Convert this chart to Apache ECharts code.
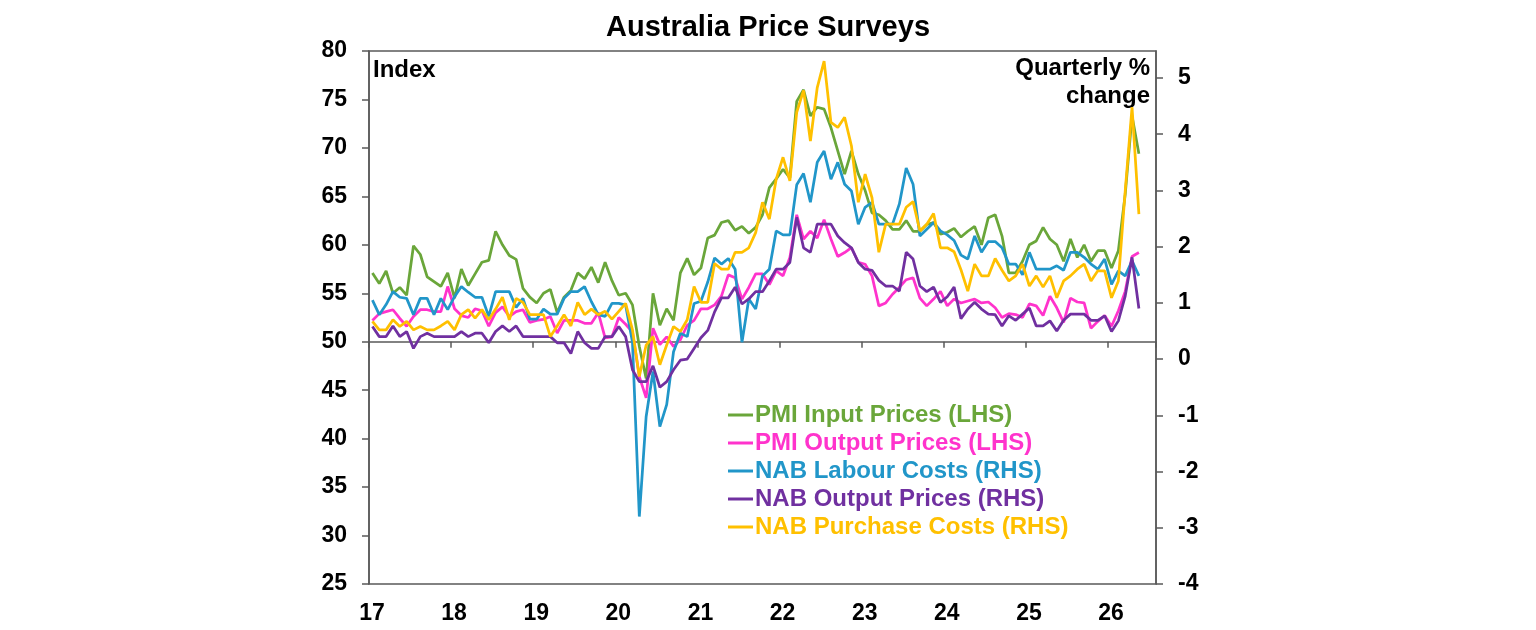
<!DOCTYPE html>
<html>
<head>
<meta charset="utf-8">
<title>Australia Price Surveys</title>
<script src="https://cdn.jsdelivr.net/npm/echarts@6/dist/echarts.min.js"></script>
<style>
  html, body { margin: 0; padding: 0; background: #fff; }
  #chart { width: 1536px; height: 630px; }
</style>
</head>
<body>
<div id="chart"></div>
<script>
// monthly observations, Jan 2017 .. May 2026
const yearLabels = ['17', '18', '19', '20', '21', '22', '23', '24', '25', '26'];
const rightTicks = [-4, -3, -2, -1, 0, 1, 2, 3, 4, 5];

const seriesNames = [
    'PMI Input Prices (LHS)',
    'PMI Output Prices (LHS)',
    'NAB Labour Costs (RHS)',
    'NAB Output Prices (RHS)',
    'NAB Purchase Costs (RHS)'
];

const pmiInput = [
    57.1, 56.0, 57.3, 55.0, 55.6, 54.8, 59.9, 59.0, 56.7, 56.2, 55.7, 57.1,
    54.5, 57.5, 55.8, 57.0, 58.2, 58.4, 61.4, 60.0, 58.9, 58.5, 55.5, 54.6,
    54.0, 55.0, 55.4, 53.0, 54.6, 55.3, 57.1, 56.5, 57.7, 56.1, 58.2, 56.3,
    54.8, 55.0, 53.8, 49.5, 46.2, 55.0, 51.7, 53.4, 52.2, 57.1, 58.6, 56.9,
    57.6, 60.7, 61.0, 62.3, 62.5, 61.5, 61.9, 61.2, 61.8, 63.1, 65.9, 66.8,
    67.8, 66.9, 74.8, 76.0, 73.3, 74.2, 74.0, 72.1, 69.7, 67.3, 69.7, 67.3,
    65.6, 63.3, 63.1, 62.5, 61.6, 61.6, 62.5, 61.4, 61.4, 62.1, 62.3, 61.1,
    61.3, 61.7, 60.8, 61.4, 61.9, 60.0, 62.8, 63.1, 60.9, 57.1, 57.1, 58.3,
    60.0, 60.4, 61.8, 60.6, 60.0, 58.3, 60.6, 58.7, 60.0, 58.3, 59.4, 59.4,
    57.6, 59.4, 65.2, 73.3, 69.4
];

const pmiOutput = [
    52.2, 52.9, 53.1, 53.3, 52.4, 51.6, 52.6, 53.3, 53.3, 53.1, 53.1, 55.7,
    53.4, 52.7, 52.5, 53.4, 53.2, 51.6, 53.0, 53.6, 52.6, 53.1, 53.3, 52.0,
    52.2, 52.3, 52.6, 50.9, 52.2, 52.2, 52.2, 51.9, 51.9, 53.0, 50.4, 50.5,
    52.5, 51.8, 51.0, 46.4, 44.2, 51.4, 49.7, 50.5, 49.5, 50.2, 51.7, 52.2,
    53.4, 53.4, 53.8, 54.7, 56.9, 56.6, 54.4, 55.6, 57.0, 57.0, 55.9, 57.3,
    56.8, 58.7, 63.1, 60.6, 61.4, 60.7, 62.6, 60.6, 58.8, 59.2, 59.7, 58.2,
    58.0, 56.8, 53.7, 54.0, 54.9, 55.6, 56.4, 56.6, 54.5, 53.7, 54.4, 55.2,
    53.7, 54.4, 54.0, 54.2, 54.4, 54.0, 54.1, 53.5, 52.5, 52.9, 52.8, 52.5,
    53.9, 53.7, 52.7, 54.7, 53.5, 52.0, 54.5, 54.1, 54.0, 51.4, 52.1, 52.7,
    51.6, 53.2, 55.2, 58.8, 59.2
];

const nabLabour = [
    1.05, 0.79, 0.97, 1.20, 1.10, 1.08, 0.79, 1.08, 1.08, 0.79, 1.08, 0.88,
    1.11, 1.29, 1.19, 1.10, 1.10, 0.76, 1.20, 1.20, 1.20, 0.92, 1.08, 0.71,
    0.71, 0.89, 0.80, 0.80, 1.08, 1.20, 1.20, 1.29, 1.02, 0.79, 0.76, 0.99,
    0.99, 0.96, 0.30, -2.80, -1.02, -0.22, -1.20, -0.81, 0.13, 0.46, 0.40, 0.99,
    1.03, 1.37, 1.80, 1.69, 1.79, 1.60, 0.30, 1.07, 0.89, 1.48, 1.60, 2.28,
    2.21, 2.21, 3.10, 3.30, 2.79, 3.50, 3.70, 3.20, 3.50, 3.11, 2.99, 2.40,
    2.70, 2.79, 2.40, 2.40, 2.40, 2.76, 3.40, 3.11, 2.19, 2.31, 2.43, 2.28,
    2.21, 2.11, 1.85, 1.78, 2.19, 1.90, 2.09, 2.09, 1.98, 1.69, 1.69, 1.50,
    1.90, 1.60, 1.60, 1.60, 1.66, 1.58, 1.90, 1.90, 1.81, 1.69, 1.60, 1.78,
    1.33, 1.57, 1.48, 1.75, 1.48
];

const nabOutput = [
    0.58, 0.40, 0.40, 0.59, 0.40, 0.49, 0.19, 0.40, 0.46, 0.40, 0.40, 0.40,
    0.40, 0.49, 0.40, 0.46, 0.46, 0.29, 0.49, 0.59, 0.49, 0.59, 0.40, 0.40,
    0.40, 0.40, 0.40, 0.29, 0.29, 0.10, 0.49, 0.29, 0.19, 0.19, 0.40, 0.40,
    0.58, 0.40, -0.19, -0.40, -0.40, -0.12, -0.50, -0.40, -0.19, -0.02, 0.00, 0.19,
    0.38, 0.51, 0.84, 1.09, 1.09, 1.28, 0.98, 1.07, 1.20, 1.20, 1.39, 1.60,
    1.60, 1.72, 2.52, 1.98, 1.90, 2.40, 2.40, 2.40, 2.19, 2.07, 1.98, 1.72,
    1.60, 1.58, 1.40, 1.30, 1.30, 1.21, 1.90, 1.78, 1.30, 1.20, 1.28, 1.01,
    1.11, 1.28, 0.72, 0.89, 1.01, 0.89, 0.80, 0.79, 0.59, 0.77, 0.69, 0.80,
    0.91, 0.59, 0.59, 0.68, 0.50, 0.69, 0.80, 0.80, 0.80, 0.69, 0.69, 0.77,
    0.49, 0.68, 1.12, 1.81, 0.90
];

const nabPurchase = [
    0.67, 0.52, 0.52, 0.70, 0.58, 0.67, 0.52, 0.58, 0.52, 0.52, 0.59, 0.67,
    0.52, 0.79, 0.88, 0.73, 0.88, 0.70, 0.89, 1.10, 0.70, 1.08, 1.01, 0.79,
    0.79, 0.79, 0.40, 0.59, 0.79, 0.59, 1.01, 0.79, 0.89, 0.79, 0.85, 0.71,
    0.85, 0.99, 0.52, -0.31, 0.25, 0.40, -0.10, 0.25, 0.58, 0.49, 0.70, 1.29,
    1.01, 1.01, 1.70, 1.60, 1.60, 1.90, 1.90, 1.98, 2.25, 2.79, 2.49, 3.20,
    3.59, 3.17, 4.39, 4.78, 3.88, 4.83, 5.30, 4.21, 4.12, 4.30, 3.79, 2.79,
    3.29, 2.87, 1.90, 2.40, 2.40, 2.40, 2.70, 2.80, 2.28, 2.40, 2.59, 1.98,
    1.98, 1.91, 1.59, 1.21, 1.69, 1.48, 1.48, 1.79, 1.58, 1.39, 1.48, 1.69,
    1.30, 1.48, 1.28, 1.48, 1.09, 1.39, 1.48, 1.60, 1.69, 1.39, 1.57, 1.57,
    1.09, 1.39, 2.99, 4.48, 2.58
];

const colors = ['#6aa63a', '#ff33cc', '#2196c9', '#7030a0', '#ffc000'];
const font = '"Liberation Sans", Arial, sans-serif';
const axisGrey = '#595959';

// x is months since Jan 2017, each point sits mid-month
function toPoints(values) {
    return values.map(function (v, i) { return [i + 0.5, v]; });
}

const allSeries = [pmiInput, pmiOutput, nabLabour, nabOutput, nabPurchase];
const axisFor = [0, 0, 1, 1, 1];

let labelStyle = { color: '#000', fontFamily: font, fontSize: 23, fontWeight: 'bold' };
let lineStyle = { color: axisGrey, width: 1.5 };

let option = {
    animation: false,
    color: colors,
    title: {
        text: 'Australia Price Surveys',
        left: 'center',
        top: 8,
        textStyle: { fontFamily: font, fontSize: 29, fontWeight: 'bold', color: '#000' }
    },
    grid: {
        left: 369, right: 380, top: 51, bottom: 46,
        show: true, borderColor: axisGrey, borderWidth: 1.5
    },
    legend: {
        orient: 'vertical',
        left: 728,
        top: 401,
        padding: 0,
        itemGap: 0,
        itemWidth: 25,
        itemHeight: 3,
        icon: 'rect',
        data: seriesNames.map(function (n, i) {
            return { name: n, textStyle: { color: colors[i] } };
        }),
        textStyle: { fontFamily: font, fontSize: 24, fontWeight: 'bold', lineHeight: 28, padding: [0, 0, 0, -3] }
    },
    xAxis: [{
        type: 'value',
        min: 0, max: 115, interval: 12,
        axisLine: { show: false, onZero: false },
        axisTick: { show: false },
        splitLine: { show: false },
        axisLabel: Object.assign({
            margin: 18,
            padding: [0, 0, 0, 6],
            formatter: function (v) { return v % 12 === 0 ? (yearLabels[v / 12] || '') : ''; }
        }, labelStyle)
    }, {
        // axis line drawn across the chart at the 50 mark
        type: 'value',
        position: 'bottom',
        offset: -242.3,
        min: 0, max: 115, interval: 12,
        axisLine: { show: true, onZero: false, lineStyle: lineStyle },
        axisTick: { show: true, length: 6, lineStyle: lineStyle },
        axisLabel: { show: false },
        splitLine: { show: false }
    }],
    yAxis: [{
        type: 'value',
        position: 'left',
        min: 25, max: 80, interval: 5,
        axisLine: { show: true, onZero: false, lineStyle: lineStyle },
        axisTick: { show: true, length: 7, lineStyle: lineStyle },
        splitLine: { show: false },
        axisLabel: Object.assign({ margin: 22 }, labelStyle)
    }, {
        type: 'value',
        position: 'right',
        min: -4, max: 5.48,
        axisLine: { show: true, onZero: false, lineStyle: lineStyle },
        axisTick: { show: true, length: 7, customValues: rightTicks, lineStyle: lineStyle },
        splitLine: { show: false },
        axisLabel: Object.assign({ margin: 22, customValues: rightTicks }, labelStyle)
    }],
    graphic: [{
        type: 'text',
        left: 373,
        top: 58,
        style: { text: 'Index', font: 'bold 24px ' + font, fill: '#000' }
    }, {
        type: 'text',
        right: 386,
        top: 56,
        style: { text: 'Quarterly %', font: 'bold 24px ' + font, fill: '#000' }
    }, {
        type: 'text',
        right: 386,
        top: 84,
        style: { text: 'change', font: 'bold 24px ' + font, fill: '#000' }
    }],
    series: allSeries.map(function (values, i) {
        return {
            name: seriesNames[i],
            type: 'line',
            yAxisIndex: axisFor[i],
            data: toPoints(values),
            showSymbol: false,
            symbol: 'none',
            lineStyle: { width: 2.75, color: colors[i] },
            itemStyle: { color: colors[i] }
        };
    })
};

var myChart = echarts.init(document.getElementById('chart'));
myChart.setOption(option);
</script>
</body>
</html>
